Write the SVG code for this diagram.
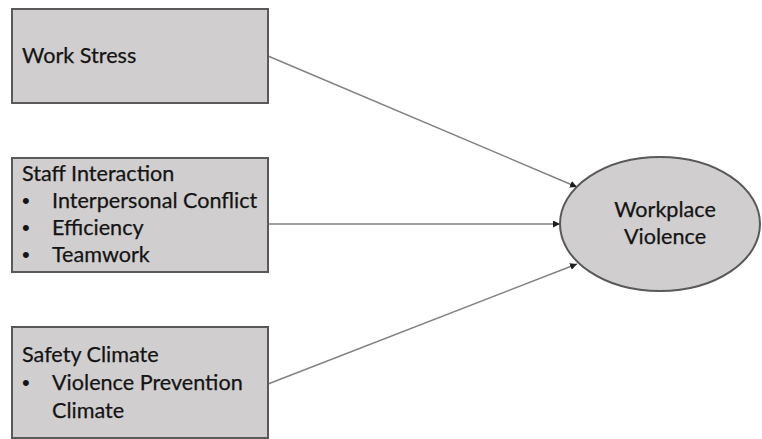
<svg xmlns="http://www.w3.org/2000/svg" width="762" height="439" viewBox="0 0 762 439">
  <defs>
    <style>
      .box { fill: #d0cece; stroke: #595959; stroke-width: 2; }
      .txt { font-family: Lato, "Liberation Sans", sans-serif; font-size: 21.6px; fill: #141414; stroke: #141414; stroke-width: 0.25; }
      .bul { font-family: "Liberation Sans", sans-serif; font-size: 22px; fill: #141414; }
      .conn { stroke: #808080; stroke-width: 1.4; fill: none; marker-end: url(#arrow); }
    </style>
    <marker id="arrow" viewBox="0 0 10 10" refX="10" refY="5" markerWidth="7" markerHeight="7" markerUnits="userSpaceOnUse" orient="auto">
      <path d="M0,0 L10,5 L0,10 z" fill="#1e1e1e"/>
    </marker>
  </defs>
  <rect width="762" height="439" fill="#ffffff"/>
  <g id="connectors">
    <line class="conn" x1="268" y1="56" x2="577" y2="187"/>
    <line class="conn" x1="268" y1="224" x2="560" y2="224"/>
    <line class="conn" x1="268" y1="384" x2="577" y2="264"/>
  </g>
  <g id="work-stress">
    <rect class="box" x="12" y="9" width="256" height="94"/>
    <text class="txt" x="22" y="63">Work Stress</text>
  </g>
  <g id="staff-interaction">
    <rect class="box" x="12" y="158" width="256" height="114"/>
    <text class="txt" x="22" y="181">Staff Interaction</text>
    <text class="bul" x="22" y="208">•</text>
    <text class="txt" x="52" y="208">Interpersonal Conflict</text>
    <text class="bul" x="22" y="235">•</text>
    <text class="txt" x="52" y="235">Efficiency</text>
    <text class="bul" x="22" y="262">•</text>
    <text class="txt" x="52" y="262">Teamwork</text>
  </g>
  <g id="safety-climate">
    <rect class="box" x="12" y="327" width="256" height="111"/>
    <text class="txt" x="22" y="362">Safety Climate</text>
    <text class="bul" x="22" y="390">•</text>
    <text class="txt" x="52" y="390">Violence Prevention</text>
    <text class="txt" x="52" y="418">Climate</text>
  </g>
  <g id="workplace-violence">
    <ellipse cx="660" cy="224" rx="100" ry="67" fill="#d0cece" stroke="#595959" stroke-width="2"/>
    <text class="txt" x="665" y="217" text-anchor="middle">Workplace</text>
    <text class="txt" x="665" y="244" text-anchor="middle">Violence</text>
  </g>
</svg>
